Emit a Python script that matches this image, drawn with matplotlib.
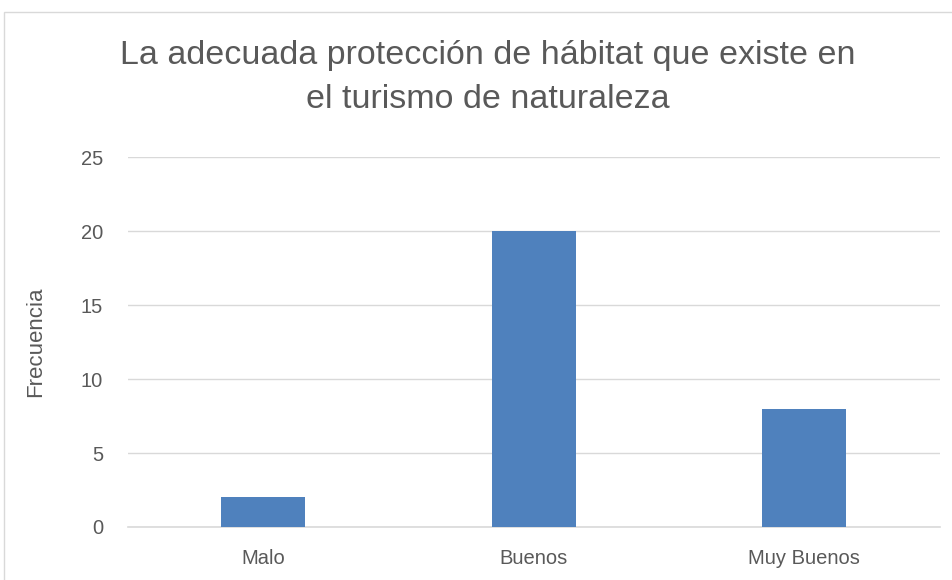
import matplotlib.pyplot as plt
from matplotlib.patches import Rectangle

categorias = ["Malo", "Buenos", "Muy Buenos"]
frecuencias = [2, 20, 8]
ticks_y = [0, 5, 10, 15, 20, 25]

plt.rcParams['font.family'] = ['Liberation Sans', 'DejaVu Sans']

fig = plt.figure(figsize=(9.53, 5.8), dpi=100)
ax = fig.add_axes([0.1343, 0.0914, 0.8517, 0.6376])

x = list(range(len(categorias)))
ax.bar(x, frecuencias, width=0.31, color="#4F81BD", zorder=3)

ax.set_xlim(-0.5, 2.5)
ax.set_ylim(0, 25)
ax.set_yticks(ticks_y)
ax.set_xticks(x)
ax.set_xticklabels(categorias)
ax.grid(axis='y', color="#D9D9D9", linewidth=1, zorder=0)
ax.tick_params(length=0, labelsize=14.5, colors="#595959")
ax.tick_params(axis='x', pad=16)
ax.tick_params(axis='y', pad=18)
for s in ['top', 'right', 'left']:
    ax.spines[s].set_visible(False)
ax.spines['bottom'].set_color("#D9D9D9")
ax.spines['bottom'].set_linewidth(1.2)

ax.set_ylabel("Frecuencia", fontsize=16, color="#595959", labelpad=25)

fig.text(0.512, 0.866, "La adecuada protección de hábitat que existe en\nel turismo de naturaleza",
         ha='center', va='center', fontsize=24.5, color="#595959", linespacing=1.55)

# marco exterior del gráfico
fig.patches.append(Rectangle((4 / 953, -0.1), 1.1, 1 - 12 / 580 + 0.1,
                             transform=fig.transFigure, fill=False,
                             edgecolor="#D9D9D9", linewidth=1))

fig.savefig("out.png", dpi=100)
